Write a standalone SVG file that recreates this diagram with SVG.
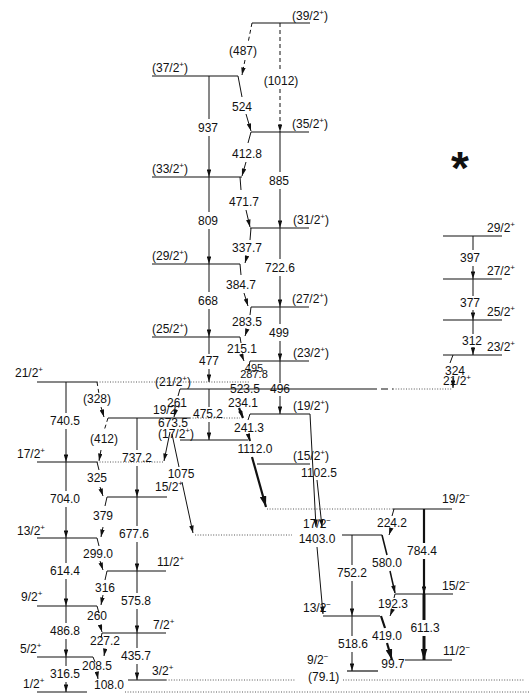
<svg xmlns="http://www.w3.org/2000/svg" width="529" height="694" viewBox="0 0 529 694">
<style>
.lv{stroke:#111;stroke-width:1.2}
.dt{stroke:#444;stroke-width:0.9;stroke-dasharray:1 1.6}
.ds{stroke:#111;stroke-width:1.2;stroke-dasharray:7 4}
.tr{stroke:#111;stroke-width:1;fill:none}
.a{marker-end:url(#ah)}
.ab{marker-end:url(#ahb)}
.dash{stroke-dasharray:4 3}
.th{stroke-width:2.2}
.th3{stroke-width:3}
text{font-family:"Liberation Sans",Arial,Helvetica,sans-serif;font-size:12px;fill:#111}
.t{text-anchor:middle}
.s{font-size:8px}
</style>
<defs>
<marker id="ah" viewBox="0 0 10 6" refX="10" refY="3" markerWidth="8" markerHeight="4.5" markerUnits="userSpaceOnUse" orient="auto"><path d="M0,0L10,3L0,6z" fill="#111"/></marker>
<marker id="ahb" viewBox="0 0 10 6" refX="10" refY="3" markerWidth="11" markerHeight="7" markerUnits="userSpaceOnUse" orient="auto"><path d="M0,0L10,3L0,6z" fill="#111"/></marker>
</defs>
<rect width="529" height="694" fill="#fff"/>

<g id="levels">
<!-- left band -->
<g id="lvl-1-2p"><line class="lv" x1="37" y1="692" x2="87" y2="692"/><line class="dt" x1="125" y1="692" x2="529" y2="692"/><text x="23" y="688">1/2<tspan class="s" dy="-5">+</tspan></text></g>
<g id="lvl-3-2p"><line class="lv" x1="128" y1="680" x2="166" y2="680"/><line class="dt" x1="166" y1="680" x2="295" y2="680"/><line class="dt" x1="343" y1="680" x2="524" y2="680"/><text x="152" y="675">3/2<tspan class="s" dy="-5">+</tspan></text></g>
<g id="lvl-5-2p"><line class="lv" x1="37" y1="657" x2="93" y2="657"/><text x="20" y="653">5/2<tspan class="s" dy="-5">+</tspan></text></g>
<g id="lvl-7-2p"><line class="lv" x1="102" y1="633" x2="166" y2="633"/><text x="153" y="629">7/2<tspan class="s" dy="-5">+</tspan></text></g>
<g id="lvl-9-2p"><line class="lv" x1="37" y1="606" x2="97" y2="606"/><text x="21" y="601">9/2<tspan class="s" dy="-5">+</tspan></text></g>
<g id="lvl-11-2p"><line class="lv" x1="107" y1="571" x2="166" y2="571"/><text x="157" y="566">11/2<tspan class="s" dy="-5">+</tspan></text></g>
<g id="lvl-13-2p"><line class="lv" x1="37" y1="538" x2="97" y2="538"/><text x="17" y="535">13/2<tspan class="s" dy="-5">+</tspan></text></g>
<g id="lvl-15-2p"><line class="lv" x1="107" y1="497" x2="167" y2="497"/><text x="155" y="491">15/2<tspan class="s" dy="-5">+</tspan></text></g>
<g id="lvl-17-2p"><line class="lv" x1="37" y1="462" x2="97" y2="462"/><line class="dt" x1="97" y1="462" x2="163" y2="462"/><text x="17" y="458">17/2<tspan class="s" dy="-5">+</tspan></text></g>
<g id="lvl-19-2p"><line class="lv" x1="108" y1="418" x2="190" y2="418"/><line class="dt" x1="190" y1="418" x2="240" y2="418"/><text x="153" y="414">19/2<tspan class="s" dy="-5">+</tspan></text></g>
<g id="lvl-21-2p"><line class="lv" x1="37" y1="382" x2="97" y2="382"/><line class="dt" x1="97" y1="382" x2="250" y2="382"/><text x="15" y="377">21/2<tspan class="s" dy="-5">+</tspan></text></g>

<!-- middle band, left side -->
<g id="lvl-m37"><line class="lv" x1="152" y1="76" x2="238" y2="76"/><text x="152" y="72">(37/2<tspan class="s" dy="-5">+</tspan><tspan dy="5">)</tspan></text></g>
<g id="lvl-m33"><line class="lv" x1="152" y1="177" x2="242" y2="177"/><text x="152" y="173">(33/2<tspan class="s" dy="-5">+</tspan><tspan dy="5">)</tspan></text></g>
<g id="lvl-m29"><line class="lv" x1="152" y1="264" x2="240" y2="264"/><text x="152" y="260">(29/2<tspan class="s" dy="-5">+</tspan><tspan dy="5">)</tspan></text></g>
<g id="lvl-m25"><line class="lv" x1="152" y1="337" x2="240" y2="337"/><text x="152" y="333">(25/2<tspan class="s" dy="-5">+</tspan><tspan dy="5">)</tspan></text></g>
<g id="lvl-m21"><line class="lv" x1="180" y1="389" x2="370" y2="389"/><text x="155" y="386">(21/2<tspan class="s" dy="-5">+</tspan><tspan dy="5">)</tspan></text></g>
<g id="lvl-m17"><line class="lv" x1="180" y1="440" x2="248" y2="440"/><text x="158" y="438">(17/2<tspan class="s" dy="-5">+</tspan><tspan dy="5">)</tspan></text></g>

<!-- middle band, right side -->
<g id="lvl-m39"><line class="lv" x1="252" y1="23" x2="310" y2="23"/><text x="292" y="20">(39/2<tspan class="s" dy="-5">+</tspan><tspan dy="5">)</tspan></text></g>
<g id="lvl-m35"><line class="lv" x1="251" y1="132" x2="309" y2="132"/><text x="292" y="128">(35/2<tspan class="s" dy="-5">+</tspan><tspan dy="5">)</tspan></text></g>
<g id="lvl-m31"><line class="lv" x1="250" y1="228" x2="309" y2="228"/><text x="293" y="224">(31/2<tspan class="s" dy="-5">+</tspan><tspan dy="5">)</tspan></text></g>
<g id="lvl-m27"><line class="lv" x1="251" y1="307" x2="309" y2="307"/><text x="292" y="303">(27/2<tspan class="s" dy="-5">+</tspan><tspan dy="5">)</tspan></text></g>
<g id="lvl-m23"><line class="lv" x1="250" y1="361" x2="309" y2="361"/><text x="293" y="357">(23/2<tspan class="s" dy="-5">+</tspan><tspan dy="5">)</tspan></text></g>
<g id="lvl-m19"><line class="lv" x1="250" y1="414" x2="310" y2="414"/><text x="293" y="410">(19/2<tspan class="s" dy="-5">+</tspan><tspan dy="5">)</tspan></text></g>
<g id="lvl-m15"><line class="lv" x1="257" y1="464" x2="310" y2="464"/><text x="293" y="460">(15/2<tspan class="s" dy="-5">+</tspan><tspan dy="5">)</tspan></text></g>

<!-- negative parity band -->
<g id="lvl-n19"><line class="dt" x1="267" y1="509" x2="393" y2="509"/><line class="lv" x1="393" y1="509" x2="452" y2="509"/><text x="442" y="503">19/2<tspan class="s" dy="-5">−</tspan></text></g>
<g id="lvl-n17"><line class="dt" x1="195" y1="535" x2="292" y2="535"/><line class="lv" x1="342" y1="535" x2="382" y2="535"/><text x="303" y="528">17/2<tspan class="s" dy="-5">−</tspan></text></g>
<g id="lvl-n15"><line class="lv" x1="395" y1="594" x2="453" y2="594"/><text x="442" y="590">15/2<tspan class="s" dy="-5">−</tspan></text></g>
<g id="lvl-n13"><line class="lv" x1="323" y1="616" x2="380" y2="616"/><text x="303" y="612">13/2<tspan class="s" dy="-5">−</tspan></text></g>
<g id="lvl-n11"><line class="lv" x1="405" y1="660" x2="452" y2="660"/><text x="443" y="655">11/2<tspan class="s" dy="-5">−</tspan></text></g>
<g id="lvl-n9"><line class="lv" x1="347" y1="671" x2="378" y2="671"/><text x="307" y="664">9/2<tspan class="s" dy="-5">−</tspan></text><text x="308" y="681">(79.1)</text></g>

<!-- right band -->
<g id="lvl-r29"><line class="lv" x1="443" y1="236" x2="502" y2="236"/><text x="487" y="232">29/2<tspan class="s" dy="-5">+</tspan></text></g>
<g id="lvl-r27"><line class="lv" x1="443" y1="279" x2="502" y2="279"/><text x="487" y="275">27/2<tspan class="s" dy="-5">+</tspan></text></g>
<g id="lvl-r25"><line class="lv" x1="443" y1="320" x2="502" y2="320"/><text x="487" y="316">25/2<tspan class="s" dy="-5">+</tspan></text></g>
<g id="lvl-r23"><line class="lv" x1="443" y1="355" x2="502" y2="355"/><text x="487" y="351">23/2<tspan class="s" dy="-5">+</tspan></text></g>
<g id="lvl-r21"><line class="ds" x1="370" y1="389" x2="393" y2="389"/><line class="dt" x1="393" y1="389" x2="452" y2="389"/><text x="443" y="385">21/2<tspan class="s" dy="-5">+</tspan></text></g>
</g>

<text x="460" y="184" class="t" style="font-size:46px;font-weight:bold">*</text>

<g id="connectors">
<!-- left band verticals -->
<line class="tr" x1="66" y1="382" x2="66" y2="413"/><line class="tr a" x1="66" y1="429" x2="66" y2="462"/><text class="t" x="65" y="425">740.5</text>
<line class="tr" x1="66" y1="462" x2="66" y2="491"/><line class="tr a" x1="66" y1="507" x2="66" y2="538"/><text class="t" x="65" y="503">704.0</text>
<line class="tr" x1="66" y1="538" x2="66" y2="563"/><line class="tr a" x1="66" y1="579" x2="66" y2="606"/><text class="t" x="65" y="575">614.4</text>
<line class="tr" x1="66" y1="606" x2="66" y2="623"/><line class="tr a" x1="66" y1="639" x2="66" y2="657"/><text class="t" x="65" y="635">486.8</text>
<line class="tr" x1="66" y1="657" x2="66" y2="666"/><line class="tr a" x1="66" y1="682" x2="66" y2="692"/><text class="t" x="65" y="678">316.5</text>

<line class="tr" x1="137" y1="418" x2="137" y2="450"/><line class="tr a" x1="137" y1="466" x2="137" y2="497"/><text class="t" x="137" y="462">737.2</text>
<line class="tr" x1="137" y1="497" x2="137" y2="526"/><line class="tr a" x1="137" y1="542" x2="137" y2="571"/><text class="t" x="134" y="538">677.6</text>
<line class="tr" x1="137" y1="571" x2="137" y2="593"/><line class="tr a" x1="137" y1="609" x2="137" y2="633"/><text class="t" x="136" y="605">575.8</text>
<line class="tr" x1="137" y1="633" x2="137" y2="648"/><line class="tr a" x1="137" y1="664" x2="137" y2="680"/><text class="t" x="136" y="660">435.7</text>

<!-- left interband cascade -->
<line class="tr dash" x1="97" y1="382" x2="99" y2="394"/><line class="tr dash a" x1="101" y1="407" x2="104" y2="417"/><text class="t" x="97" y="403">(328)</text>
<line class="tr dash" x1="108" y1="418" x2="104" y2="431"/><line class="tr dash a" x1="101" y1="450" x2="99" y2="461"/><text class="t" x="104" y="443">(412)</text>
<line class="tr" x1="97" y1="462" x2="99" y2="470"/><line class="tr a" x1="100" y1="487" x2="103" y2="496"/><text class="t" x="97" y="482">325</text>
<line class="tr" x1="107" y1="497" x2="105" y2="506"/><line class="tr a" x1="103" y1="527" x2="101" y2="537"/><text class="t" x="103" y="520">379</text>
<line class="tr" x1="97" y1="538" x2="99" y2="546"/><line class="tr a" x1="100" y1="561" x2="103" y2="570"/><text class="t" x="98" y="558">299.0</text>
<line class="tr" x1="107" y1="571" x2="105" y2="580"/><line class="tr a" x1="103" y1="595" x2="101" y2="605"/><text class="t" x="105" y="592">316</text>
<line class="tr" x1="97" y1="606" x2="99" y2="613"/><line class="tr a" x1="100" y1="625" x2="102" y2="632"/><text class="t" x="97" y="620">260</text>
<line class="tr" x1="102" y1="633" x2="101" y2="638"/><line class="tr a" x1="105" y1="650" x2="104" y2="656"/><text class="t" x="105" y="645">227.2</text>
<line class="tr" x1="93" y1="657" x2="95" y2="662"/><line class="tr a" x1="97" y1="673" x2="98" y2="679"/><text class="t" x="97" y="670">208.5</text>
<text class="t" x="109" y="689">108.0</text>

<!-- middle band verticals x=209 -->
<line class="tr" x1="209" y1="76" x2="209" y2="119"/><line class="tr a" x1="209" y1="136" x2="209" y2="177"/><text class="t" x="208" y="132">937</text>
<line class="tr" x1="209" y1="177" x2="209" y2="212"/><line class="tr a" x1="209" y1="229" x2="209" y2="264"/><text class="t" x="208" y="225">809</text>
<line class="tr" x1="209" y1="264" x2="209" y2="292"/><line class="tr a" x1="209" y1="309" x2="209" y2="337"/><text class="t" x="208" y="305">668</text>
<line class="tr" x1="209" y1="337" x2="209" y2="354"/><line class="tr a" x1="209" y1="369" x2="209" y2="382"/><text class="t" x="209" y="365">477</text>
<line class="tr" x1="209" y1="389" x2="209" y2="407"/><line class="tr a" x1="209" y1="422" x2="209" y2="440"/><text class="t" x="208" y="418">475.2</text>

<!-- middle band verticals x=280 -->
<line class="tr dash" x1="280" y1="23" x2="280" y2="72"/><line class="tr dash a" x1="280" y1="89" x2="280" y2="132"/><text class="t" x="281" y="85">(1012)</text>
<line class="tr" x1="280" y1="132" x2="280" y2="172"/><line class="tr a" x1="280" y1="189" x2="280" y2="228"/><text class="t" x="279" y="185">885</text>
<line class="tr" x1="280" y1="228" x2="280" y2="259"/><line class="tr a" x1="280" y1="276" x2="280" y2="307"/><text class="t" x="280" y="272">722.6</text>
<line class="tr" x1="280" y1="307" x2="280" y2="324"/><line class="tr a" x1="280" y1="341" x2="280" y2="361"/><text class="t" x="279" y="337">499</text>
<line class="tr" x1="280" y1="361" x2="280" y2="383"/><line class="tr a" x1="280" y1="396" x2="280" y2="414"/><text class="t" x="280" y="393">496</text>

<!-- middle zigzag cascade -->
<line class="tr dash" x1="252" y1="23" x2="248" y2="43"/><line class="tr dash a" x1="245" y1="60" x2="242" y2="75"/><text class="t" x="243" y="55">(487)</text>
<line class="tr" x1="238" y1="76" x2="242" y2="97"/><line class="tr a" x1="246" y1="114" x2="251" y2="131"/><text class="t" x="242" y="111">524</text>
<line class="tr" x1="251" y1="132" x2="248" y2="143"/><line class="tr a" x1="246" y1="162" x2="242" y2="176"/><text class="t" x="247" y="158">412.8</text>
<line class="tr" x1="240" y1="177" x2="241" y2="190"/><line class="tr a" x1="246" y1="210" x2="250" y2="227"/><text class="t" x="244" y="206">471.7</text>
<line class="tr" x1="251" y1="228" x2="250" y2="240"/><line class="tr a" x1="247" y1="256" x2="245" y2="263"/><text class="t" x="247" y="252">337.7</text>
<line class="tr" x1="240" y1="264" x2="241" y2="275"/><line class="tr a" x1="244" y1="293" x2="248" y2="306"/><text class="t" x="241" y="289">384.7</text>
<line class="tr" x1="251" y1="307" x2="250" y2="315"/><line class="tr a" x1="247" y1="330" x2="245" y2="336"/><text class="t" x="247" y="326">283.5</text>
<line class="tr" x1="240" y1="337" x2="241" y2="343"/><line class="tr a" x1="242" y1="356" x2="244" y2="361"/><text class="t" x="242" y="353">215.1</text>
<line class="tr" x1="250" y1="361" x2="249" y2="366"/>
<text class="t" x="254" y="372" style="font-size:11px">495</text>
<text class="t" x="254" y="378" style="font-size:11px">287.8</text>
<text class="t" x="245" y="393">523.5</text>
<line class="tr th a" x1="239" y1="408" x2="243" y2="418"/><text class="t" x="243" y="407">234.1</text>
<line class="tr" x1="250" y1="414" x2="248" y2="420"/><line class="tr th a" x1="248" y1="434" x2="250" y2="441"/><text class="t" x="249" y="432">241.3</text>
<line class="tr th ab" x1="252" y1="457" x2="266" y2="507"/><text class="t" x="255" y="453">1112.0</text>

<line class="tr" x1="180" y1="389" x2="178" y2="396"/><line class="tr a" x1="176" y1="409" x2="174" y2="417"/><text class="t" x="177" y="407">261</text>
<line class="tr a" x1="170" y1="432" x2="164" y2="461"/><text class="t" x="173" y="427">673.5</text>
<line class="tr" x1="172" y1="434" x2="179" y2="467"/><line class="tr a" x1="182" y1="482" x2="193" y2="533"/><text class="t" x="181" y="478">1075</text>

<!-- 1102.5 / 1403.0 -->
<line class="tr a" x1="310" y1="414" x2="316" y2="527"/>
<line class="tr a" x1="317" y1="480" x2="322" y2="527"/>
<text class="t" x="319" y="477">1102.5</text>
<line class="tr a" x1="317" y1="547" x2="323" y2="614"/><text class="t" x="317" y="543">1403.0</text>

<!-- negative parity band -->
<line class="tr" x1="352" y1="535" x2="352" y2="565"/><line class="tr a" x1="352" y1="581" x2="352" y2="616"/><text class="t" x="352" y="577">752.2</text>
<line class="tr" x1="352" y1="616" x2="352" y2="636"/><line class="tr a" x1="352" y1="652" x2="352" y2="671"/><text class="t" x="353" y="648">518.6</text>
<line class="tr" x1="394" y1="509" x2="392" y2="516"/><line class="tr a" x1="391" y1="529" x2="389" y2="535"/><text class="t" x="392" y="527">224.2</text>
<line class="tr" x1="382" y1="535" x2="387" y2="555" style="stroke-width:1.5"/><line class="tr a" x1="390" y1="571" x2="395" y2="593" style="stroke-width:1.5"/><text class="t" x="387" y="567">580.0</text>
<line class="tr th" x1="424" y1="509" x2="424" y2="543"/><line class="tr th a" x1="424" y1="559" x2="424" y2="594"/><text class="t" x="422" y="555">784.4</text>
<line class="tr" x1="395" y1="594" x2="394" y2="598"/><line class="tr a" x1="392" y1="611" x2="390" y2="616"/><text class="t" x="393" y="608">192.3</text>
<line class="tr th3" x1="424" y1="594" x2="424" y2="620"/><line class="tr th3 ab" x1="424" y1="636" x2="424" y2="660"/><text class="t" x="425" y="632">611.3</text>
<line class="tr th" x1="381" y1="616" x2="385" y2="628"/><line class="tr th ab" x1="387" y1="643" x2="392" y2="660"/><text class="t" x="387" y="640">419.0</text>
<text class="t" x="393" y="668">99.7</text>

<!-- right band -->
<line class="tr" x1="473" y1="236" x2="473" y2="250"/><line class="tr a" x1="473" y1="266" x2="473" y2="279"/><text class="t" x="470" y="262">397</text>
<line class="tr" x1="473" y1="279" x2="473" y2="296"/><line class="tr a" x1="473" y1="310" x2="473" y2="320"/><text class="t" x="470" y="307">377</text>
<line class="tr" x1="473" y1="320" x2="473" y2="334"/><line class="tr a" x1="473" y1="347" x2="473" y2="355"/><text class="t" x="472" y="345">312</text>
<line class="tr" x1="453" y1="355" x2="450" y2="363"/><line class="tr a" x1="453" y1="378" x2="453" y2="388"/><text class="t" x="455" y="375">324</text>
</g>
</svg>
